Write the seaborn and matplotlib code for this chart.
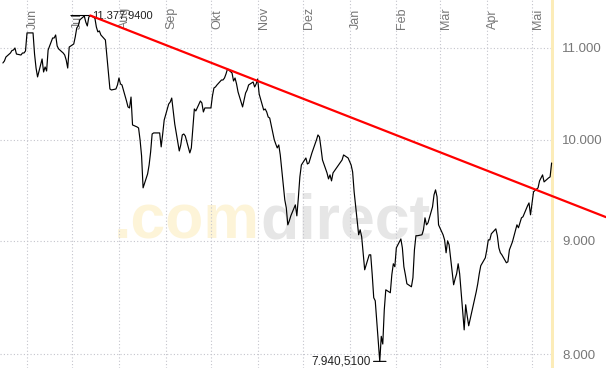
import pandas as pd
import numpy as np
import seaborn as sns
import matplotlib.pyplot as plt
import matplotlib.dates as mdates
from matplotlib.ticker import FixedLocator, NullLocator

# Daily closes, one row per trading week (May 2007 - May 2008)
weeks = [
    [10830, 10852, 10897],
    [10943, 10971, 10977, 11000, 10931],
    [10920, 10943, 10943, 10966, 11174],
    [11174, 11174, 10931, 10773, 10674],
    [10875, 10729, 10785, 10740, 10977],
    [11115, 11115, 11150, 11023, 10989],
    [10943, 10920, 10863, 10773, 11011],
    [11046, 11127, 11232, 11255, 11326],
    [11372, 11300, 11255, 11360, 11377.94],
    [11350, 11243, 11186, 11197, 11150],
    [11092, 10909, 10740, 10541, 10530],
    [10541, 10585, 10662, 10596, 10585],
    [10410, 10346, 10335, 10453, 10154],
    [10133, 10122, 9997, 9832, 9511],
    [9650, 9740, 9873, 10059, 10070],
    [10070, 10070, 9925, 10059, 10206],
    [10378, 10399, 10442, 10303, 10164],
    [9883, 9945, 10049, 10059, 10038],
    [9863, 9914, 10122, 10324, 10303],
    [10410, 10389, 10292, 10335, 10335],
    [10335, 10464, 10552, 10563, 10585],
    [10640, 10640, 10662, 10707, 10763],
    [10718, 10629, 10662, 10596, 10508],
    [10346, 10421, 10497, 10530, 10585],
    [10618, 10563, 10596, 10651, 10486],
    [10313, 10324, 10292, 10238, 10227],
    [10000, 9955, 9914, 9945, 9842],
    [9393, 9315, 9152, 9190, 9238],
    [9344, 9238, 9413, 9620, 9740],
    [9811, 9750, 9760, 9811, 9863],
    [9997, 10049, 10028, 9914, 9791],
    [9660, 9600, 9640, 9580, 9660],
    [9791, 9842],
    [9811, 9740, 9670, 9472],
    [9058, 9105, 9039, 8880, 8734],
    [8871, 8871, 8689, 8484, 8457],
    [7940.51, 8150, 8085, 8378, 8554],
    [8528, 8689, 8789, 8762, 8936],
    [9019, 8935, 8762, 8689, 8608],
    [8581, 8662, 8917, 9049, 9049],
    [9058, 9105, 9219, 9152, 9171],
    [9325, 9442, 9491, 9423, 9152],
    [9058, 9010, 8890, 9001, 8964],
    [8599, 8653, 8698, 8789, 8698],
    [8205, 8422, 8325, 8240],
    [8537, 8608, 8698, 8771],
    [8843, 8917, 9010, 9010, 9067],
    [9114, 9049, 8936, 8890, 8871],
    [8798, 8807, 8917, 8955, 8991],
    [9152, 9124, 9171, 9219, 9229],
    [9334, 9363, 9248, 9472],
    [9511, 9580, 9610, 9640, 9570],
    [9610, 9620, 9760],
]
holidays = ['2007-12-24', '2007-12-25', '2007-12-26', '2008-01-01',
            '2008-03-21', '2008-03-24', '2008-05-01']
closes = [v for w in weeks for v in w]
dates = pd.bdate_range('2007-05-16', '2008-05-14', freq='C', holidays=holidays)

month_names = ['Jan', 'Feb', 'Mär', 'Apr', 'Mai', 'Jun',
               'Jul', 'Aug', 'Sep', 'Okt', 'Nov', 'Dez']
y_ticks = [8000, 9000, 10000, 11000]
y_labels = ['8.000', '9.000', '10.000', '11.000']

# trend line from the July high
trend_dates = [pd.Timestamp('2007-07-13'), pd.Timestamp('2008-06-19')]
trend_values = [11377.94, 9226]

df = pd.DataFrame({'date': dates, 'close': closes})
hi = df.loc[df['close'].idxmax()]
lo = df.loc[df['close'].idxmin()]

sns.set_style('white')
plt.rcParams['font.family'] = ['Liberation Sans', 'DejaVu Sans']

fig = plt.figure(figsize=(6.06, 3.68), dpi=100)
ax = fig.add_axes([0, 0, 554 / 606, 1])

# watermark
wm = ax.text(0.206, 0.353, '.com', transform=ax.transAxes, fontsize=45,
             fontweight='bold', color='#fdf4d8', va='baseline', zorder=0)
ax.annotate('direct', xy=(1, 0), xycoords=wm, va='bottom', ha='left',
            fontsize=45, fontweight='bold', color='#e6e6e6', zorder=0)

ax.axvline(df['date'].iloc[-1], color='#fcecb8', lw=2.2, zorder=1)
sns.lineplot(data=df, x='date', y='close', color='black', lw=0.85, ax=ax, zorder=3)
ax.plot(trend_dates, trend_values, color='#ff0000', lw=1.6, clip_on=False, zorder=4)

ax.set_yscale('log')
ax.set_ylim(7886, 11563)
ax.set_xlim(pd.Timestamp('2007-05-14 02:00'), pd.Timestamp('2008-05-15 14:00'))

month_starts = pd.date_range('2007-06-01', '2008-05-01', freq='MS')
ax.xaxis.tick_top()
ax.set_xticks(month_starts, labels=[month_names[d.month - 1] for d in month_starts],
              rotation=90, ha='left', va='bottom')
ax.tick_params(axis='x', length=0, pad=-21, labelsize=9, labelcolor='#777777')

ax.yaxis.tick_right()
ax.yaxis.set_major_locator(FixedLocator(y_ticks))
ax.yaxis.set_minor_locator(NullLocator())
ax.set_yticks(y_ticks, labels=y_labels)
ax.tick_params(axis='y', length=0, pad=6, labelsize=9.5, labelcolor='#777777')

ax.grid(True, color='#c4c4cc', linestyle=(0, (1, 2)), lw=0.8)
ax.set_axisbelow(True)
for s in ax.spines.values():
    s.set_visible(False)
ax.set_xlabel('')
ax.set_ylabel('')

# high / low markers
ax.annotate('', xy=(hi['date'], hi['close']), xytext=(-14, 0), textcoords='offset points',
            arrowprops=dict(arrowstyle='-', color='black', lw=0.8, shrinkA=0, shrinkB=0))
ax.annotate('11.377,9400', xy=(hi['date'], hi['close']), xytext=(1.5, 0),
            textcoords='offset points', ha='left', va='center', fontsize=8, color='#222222')
ax.annotate('', xy=(lo['date'], lo['close']), xytext=(-4.5, 0), textcoords='offset points',
            arrowprops=dict(arrowstyle='-', color='black', lw=0.8, shrinkA=0, shrinkB=0))
ax.annotate('', xy=(lo['date'], lo['close']), xytext=(4.5, 0), textcoords='offset points',
            arrowprops=dict(arrowstyle='-', color='black', lw=0.8, shrinkA=0, shrinkB=0))
ax.annotate('7.940,5100', xy=(lo['date'], lo['close']), xytext=(-6.5, 0),
            textcoords='offset points', ha='right', va='center', fontsize=8.5, color='#222222')

plt.savefig('out.png', dpi=100)
